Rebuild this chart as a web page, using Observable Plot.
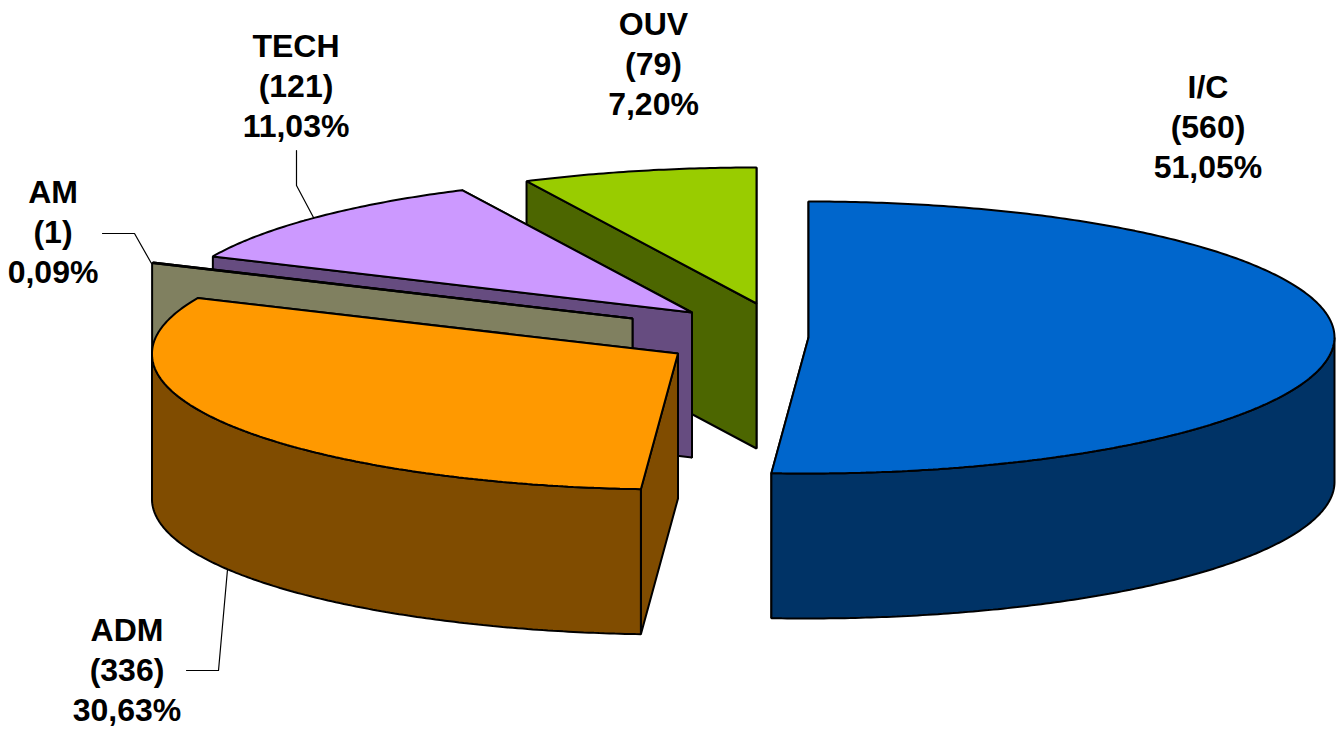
<!DOCTYPE html>
<html><head><meta charset="utf-8">
<style>html,body{margin:0;padding:0;background:#fff;overflow:hidden}svg{display:block}</style>
<script src="https://cdn.jsdelivr.net/npm/d3@7"></script>
<script src="https://cdn.jsdelivr.net/npm/@observablehq/plot@0.6"></script>
</head><body><script>
// data
const categories = ["I/C","ADM","AM","TECH","OUV"];
const counts = [560,336,1,121,79];
const percents = ["51,05%","30,63%","0,09%","11,03%","7,20%"];
// styles
const topColors = ["#0066CC","#FF9900","#808060","#CC99FF","#99CC00"];
const sideColors = ["#003366","#804C00","#808060","#664C80","#4C6600"];
// layout
const apexX = [808,677.5,632,691.5,756];
const apexY = [337,353,318,312,303];
const labelX = [1207.5,126.5,52.5,295.5,653];
const labelY = [124.5,667.5,229.5,83.5,62];
const rx = 526, ry = 136, depth = 145, frontSkew = 2.5;
const drawOrder = [4,3,2,1,0];
const leaders = [
  {k:"AM",pts:[[102,233],[134,233],[151,263]]},
  {k:"TECH",pts:[[296,150],[296,185],[313,217]]},
  {k:"ADM",pts:[[186,670],[218,670],[227,569]]}
];

const total = d3.sum(counts);
let cum = 0;
const slices = categories.map((c,i)=>{
  const a0 = cum/total*2*Math.PI; cum += counts[i];
  return {i,c,a0,a1:cum/total*2*Math.PI};
});
const rim = (i,a,dz=0)=>[
  apexX[i]+rx*Math.sin(a)+frontSkew*Math.min(0,Math.cos(a)),
  apexY[i]-ry*Math.cos(a)+dz
];
const arc = (i,a0,a1,dz=0)=>{
  const n = Math.max(2,Math.ceil(Math.abs(a1-a0)/0.01));
  return d3.range(n+1).map(k=>rim(i,a0+(a1-a0)*k/n,dz));
};
const faces = [];
const add = (id,fill,pts)=>pts.forEach(([x,y])=>faces.push({id,fill,x,y}));
for (const oi of drawOrder) {
  const {i,c,a0,a1} = slices[oi];
  const A=[apexX[i],apexY[i]], Ad=[apexX[i],apexY[i]+depth];
  add(c+"-end",sideColors[i],[A,rim(i,a1),rim(i,a1,depth),Ad]);
  add(c+"-start",sideColors[i],[A,rim(i,a0),rim(i,a0,depth),Ad]);
  const w0=Math.max(a0,Math.PI/2), w1=Math.min(a1,1.5*Math.PI);
  if (w1>w0) add(c+"-wall",sideColors[i],[...arc(i,w0,w1),...arc(i,w1,w0,depth)]);
  add(c+"-top",topColors[i],[A,...arc(i,a0,a1)]);
}
const leaderRows = leaders.flatMap(l=>l.pts.map(([x,y])=>({k:l.k,x,y})));
const labels = categories.map((c,i)=>({x:labelX[i],y:labelY[i],t:`${c}\n(${counts[i]})\n${percents[i]}`}));

const chart = Plot.plot({
  width:1340,height:733,margin:0,
  x:{domain:[0,1340],axis:null},
  y:{domain:[0,733],reverse:true,axis:null},
  color:{type:"identity"},
  marks:[
    Plot.line(leaderRows,{x:"x",y:"y",z:"k",stroke:"black",strokeWidth:1.2}),
    Plot.line(faces,{x:"x",y:"y",z:"id",fill:"fill",stroke:"black",strokeWidth:2,curve:"linear-closed",strokeLinejoin:"miter"}),
    Plot.text(labels,{x:"x",y:"y",text:"t",fontSize:32,fontWeight:"bold",fontFamily:"Liberation Sans",lineHeight:1.25,fill:"black",textAnchor:"middle"})
  ]
});
document.body.append(chart);
</script></body></html>
